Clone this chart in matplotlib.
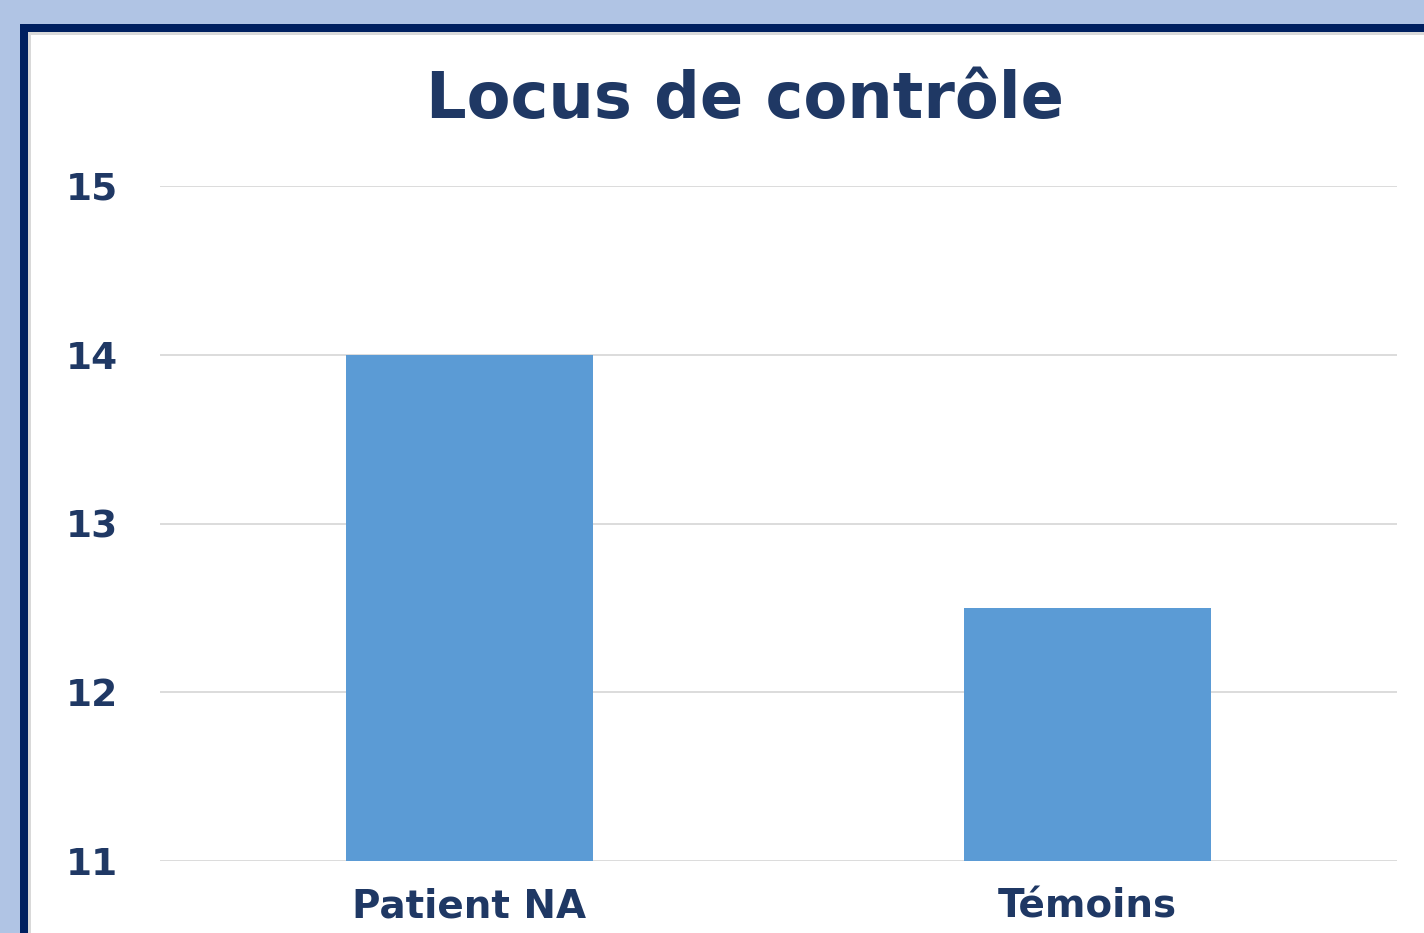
import matplotlib.pyplot as plt
from matplotlib.patches import Rectangle

# data
categories = ["Patient NA", "Témoins"]
values = [14, 12.5]
yTicks = [11, 12, 13, 14, 15]
title = "Locus de contrôle"

navy = "#1f3864"
barColor = "#5b9bd5"
W, H = 1424, 933

fig = plt.figure(figsize=(14.24, 9.33), dpi=100)
fig.patch.set_facecolor("#b0c4e4")

# framed white panel, drawn on a background axes in pixel coords
bg = fig.add_axes([0, 0, 1, 1], zorder=-10)
bg.set_xlim(0, W)
bg.set_ylim(H, 0)
bg.axis("off")
bg.add_patch(Rectangle((20, 24), W, H, facecolor="#002060", edgecolor="none"))
bg.add_patch(Rectangle((28, 32), W, H, facecolor="#d9d9d9", edgecolor="none"))
bg.add_patch(Rectangle((31, 35), W, H, facecolor="white", edgecolor="none"))

ax = fig.add_axes([160 / W, 1 - 861 / H, (1397 - 160) / W, (861 - 186) / H])
ax.set_facecolor("none")
ax.bar(range(len(categories)), [v - yTicks[0] for v in values], bottom=yTicks[0],
       width=0.4, color=barColor, zorder=3)

ax.set_xlim(-0.5, 1.5)
ax.set_ylim(yTicks[0], yTicks[-1])
ax.set_yticks(yTicks)
ax.set_xticks(range(len(categories)))
ax.set_xticklabels(categories)
ax.grid(True, axis="y", color="#d9d9d9", linewidth=1.3, zorder=0)
for s in ax.spines.values():
    s.set_visible(False)
ax.tick_params(length=0)
ax.tick_params(axis="y", pad=30, labelsize=27, labelcolor=navy)
ax.tick_params(axis="x", pad=19, labelsize=28, labelcolor=navy)
for lab in ax.get_xticklabels() + ax.get_yticklabels():
    lab.set_fontweight("bold")

fig.text(745 / W, 1 - 100 / H, title, ha="center", va="center",
         fontsize=46, fontweight="bold", color=navy)

fig.savefig("out.png", dpi=100, facecolor=fig.get_facecolor())
